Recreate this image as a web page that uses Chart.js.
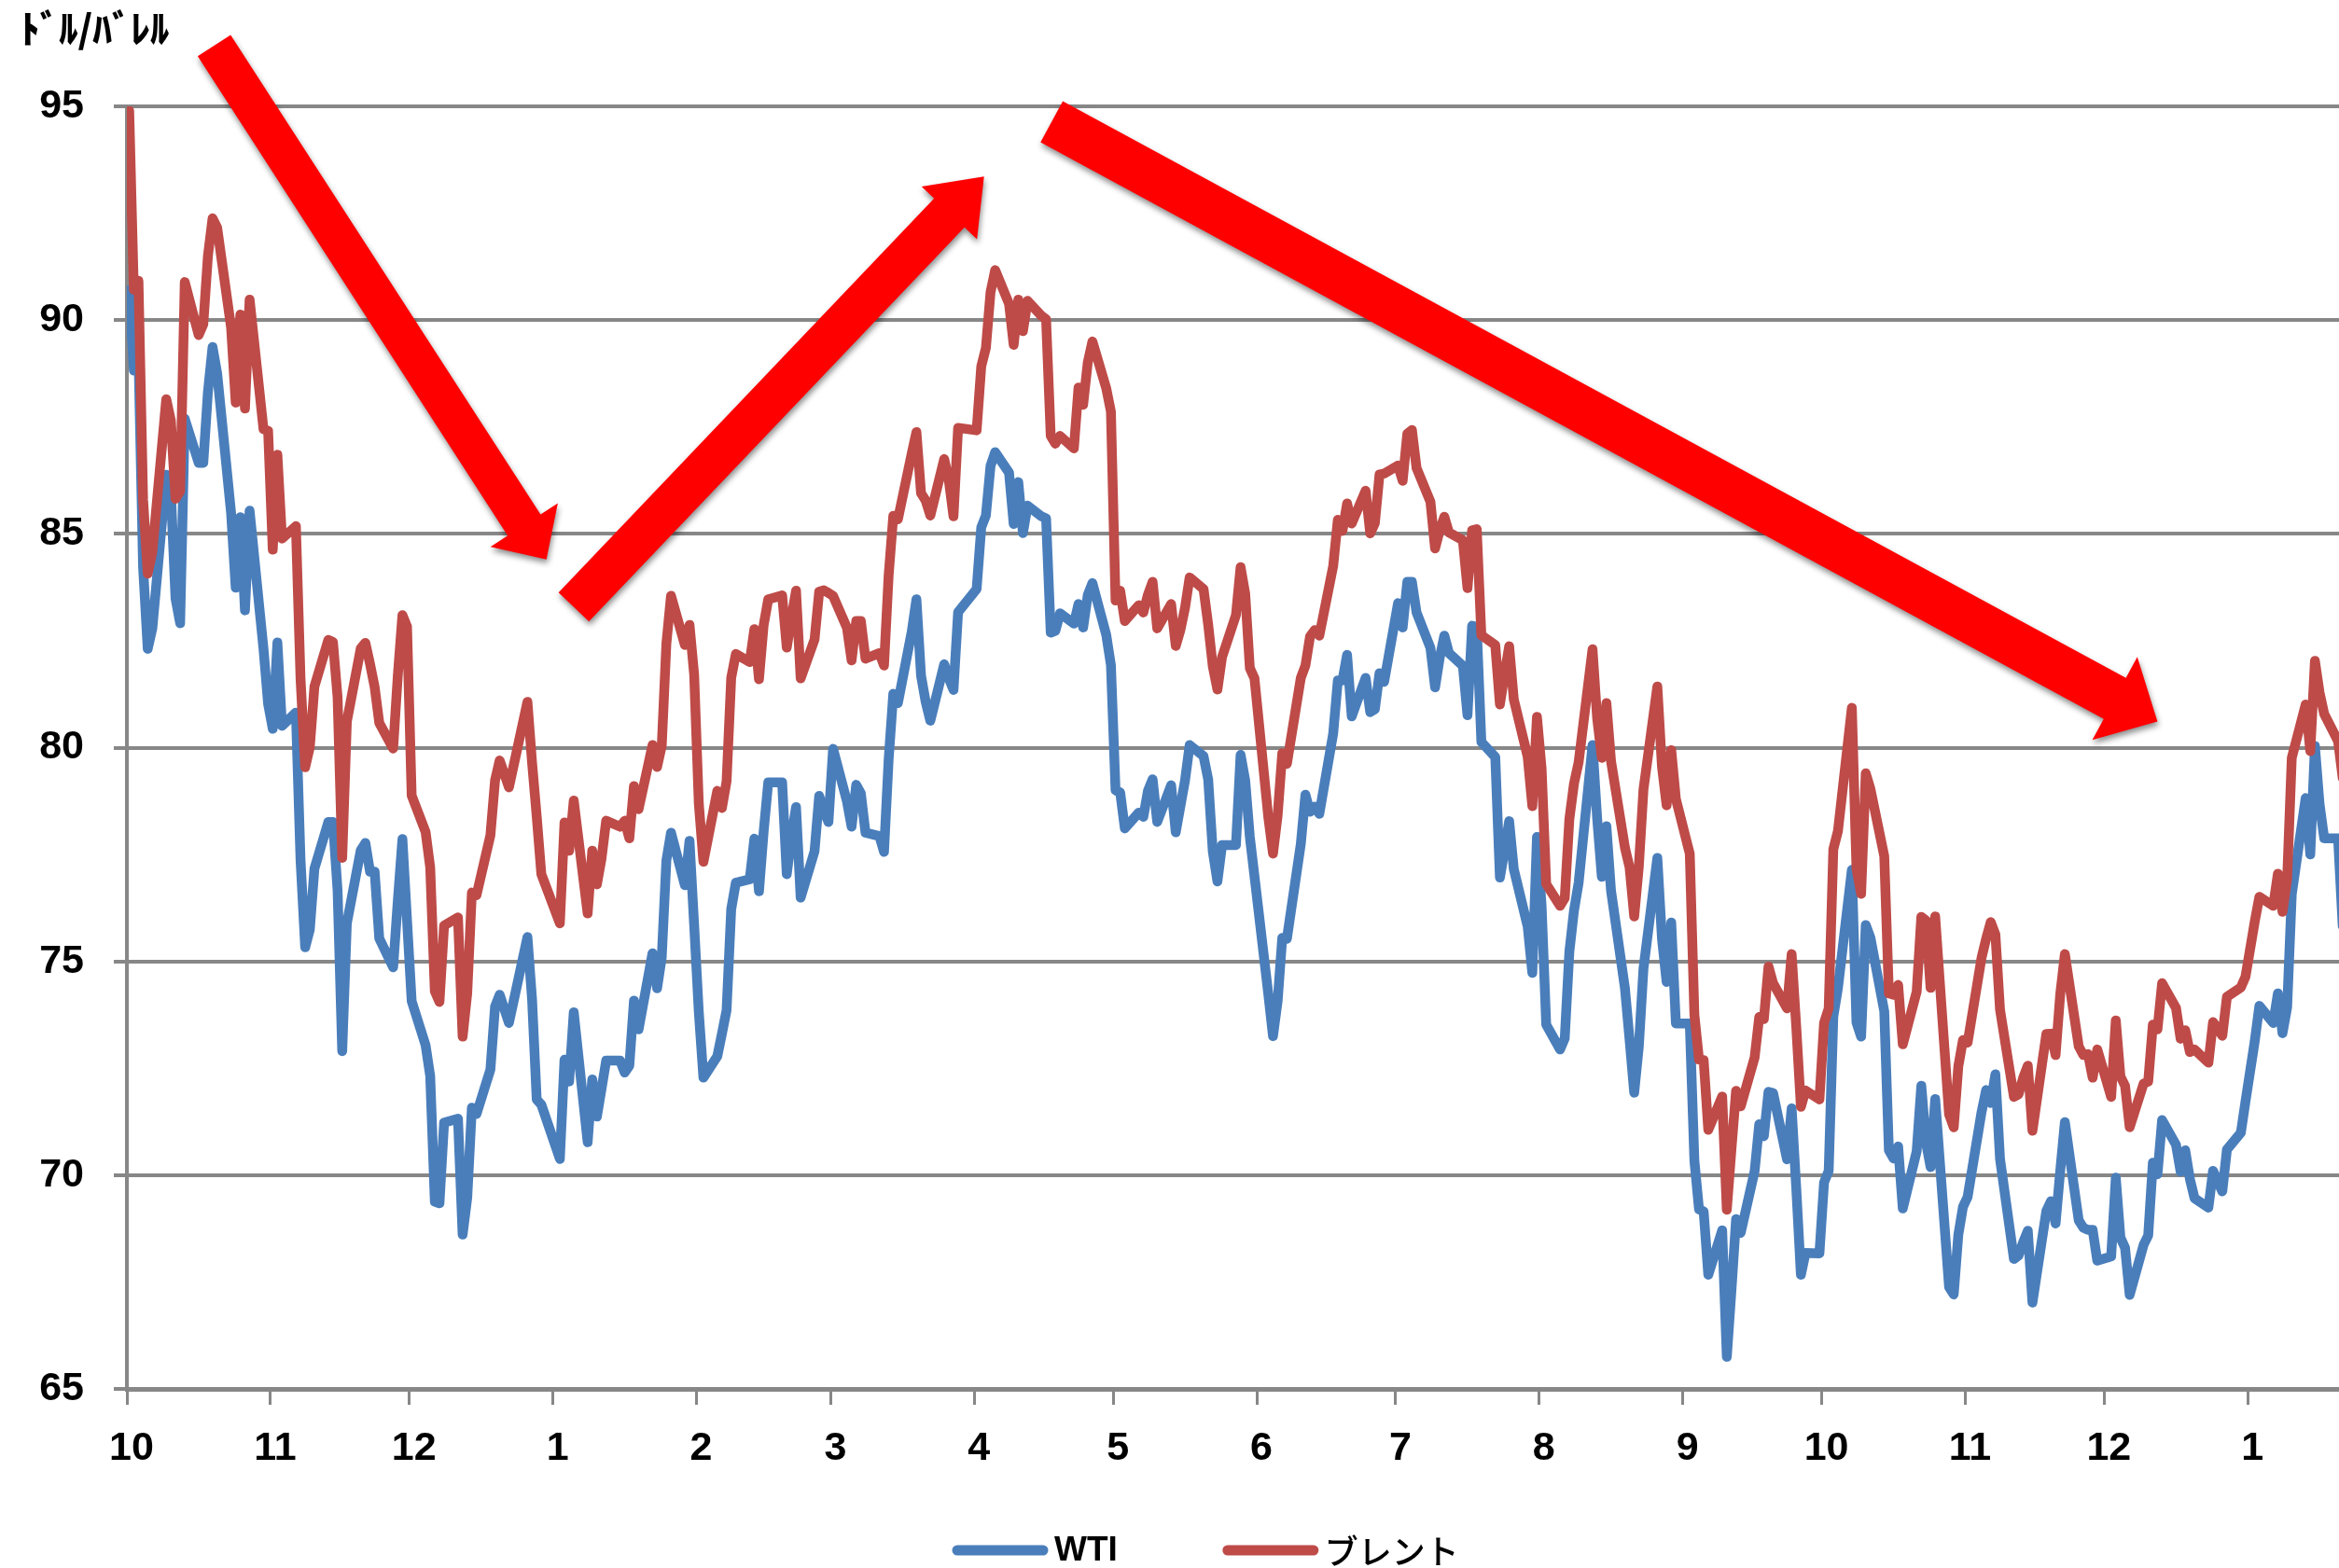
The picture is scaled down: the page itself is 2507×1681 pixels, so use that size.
<!DOCTYPE html>
<html>
<head>
<meta charset="utf-8">
<title>WTI・ブレント原油価格</title>
<script src="https://cdn.jsdelivr.net/npm/chart.js@4.4.1/dist/chart.umd.min.js"></script>
<style>
  html, body { margin: 0; padding: 0; background: #ffffff; }
  #wrap { width: 2507px; height: 1681px; position: relative; overflow: hidden; }
  canvas { display: block; }
</style>
</head>
<body>
<div id="wrap"><canvas id="oil" width="2507" height="1681"></canvas></div>
<script>
// Daily settlement dates (one row per trading day)
const tradeDates = [
  '2023-10-01','2023-10-02','2023-10-03','2023-10-04','2023-10-05','2023-10-06','2023-10-09','2023-10-10','2023-10-11','2023-10-12','2023-10-13',
  '2023-10-16','2023-10-17','2023-10-18','2023-10-19','2023-10-20','2023-10-23','2023-10-24','2023-10-25','2023-10-26','2023-10-27','2023-10-30','2023-10-31',
  '2023-11-01','2023-11-02','2023-11-03','2023-11-06','2023-11-07','2023-11-08','2023-11-09','2023-11-10','2023-11-13','2023-11-14','2023-11-15','2023-11-16',
  '2023-11-17','2023-11-20','2023-11-21','2023-11-22','2023-11-23','2023-11-24','2023-11-27','2023-11-28','2023-11-29','2023-11-30',
  '2023-12-01','2023-12-04','2023-12-05','2023-12-06','2023-12-07','2023-12-08','2023-12-11','2023-12-12','2023-12-13','2023-12-14','2023-12-15',
  '2023-12-18','2023-12-19','2023-12-20','2023-12-21','2023-12-22','2023-12-26','2023-12-27','2023-12-28','2023-12-29',
  '2024-01-02','2024-01-03','2024-01-04','2024-01-05','2024-01-08','2024-01-09','2024-01-10','2024-01-11','2024-01-12','2024-01-15','2024-01-16',
  '2024-01-17','2024-01-18','2024-01-19','2024-01-22','2024-01-23','2024-01-24','2024-01-25','2024-01-26','2024-01-29','2024-01-30','2024-01-31',
  '2024-02-01','2024-02-02','2024-02-05','2024-02-06','2024-02-07','2024-02-08','2024-02-09','2024-02-12','2024-02-13','2024-02-14','2024-02-15',
  '2024-02-16','2024-02-19','2024-02-20','2024-02-21','2024-02-22','2024-02-23','2024-02-26','2024-02-27','2024-02-28','2024-02-29',
  '2024-03-01','2024-03-04','2024-03-05','2024-03-06','2024-03-07','2024-03-08','2024-03-11','2024-03-12','2024-03-13','2024-03-14','2024-03-15',
  '2024-03-18','2024-03-19','2024-03-20','2024-03-21','2024-03-22','2024-03-25','2024-03-26','2024-03-27','2024-03-28',
  '2024-04-01','2024-04-02','2024-04-03','2024-04-04','2024-04-05','2024-04-08','2024-04-09','2024-04-10','2024-04-11','2024-04-12','2024-04-15',
  '2024-04-16','2024-04-17','2024-04-18','2024-04-19','2024-04-22','2024-04-23','2024-04-24','2024-04-25','2024-04-26','2024-04-29','2024-04-30',
  '2024-05-01','2024-05-02','2024-05-03','2024-05-06','2024-05-07','2024-05-08','2024-05-09','2024-05-10','2024-05-13','2024-05-14','2024-05-15',
  '2024-05-16','2024-05-17','2024-05-20','2024-05-21','2024-05-22','2024-05-23','2024-05-24','2024-05-27','2024-05-28','2024-05-29','2024-05-30','2024-05-31',
  '2024-06-03','2024-06-04','2024-06-05','2024-06-06','2024-06-07','2024-06-10','2024-06-11','2024-06-12','2024-06-13','2024-06-14','2024-06-17',
  '2024-06-18','2024-06-19','2024-06-20','2024-06-21','2024-06-24','2024-06-25','2024-06-26','2024-06-27','2024-06-28',
  '2024-07-01','2024-07-02','2024-07-03','2024-07-04','2024-07-05','2024-07-08','2024-07-09','2024-07-10','2024-07-11','2024-07-12','2024-07-15',
  '2024-07-16','2024-07-17','2024-07-18','2024-07-19','2024-07-22','2024-07-23','2024-07-24','2024-07-25','2024-07-26','2024-07-29','2024-07-30','2024-07-31',
  '2024-08-01','2024-08-02','2024-08-05','2024-08-06','2024-08-07','2024-08-08','2024-08-09','2024-08-12','2024-08-13','2024-08-14','2024-08-15',
  '2024-08-16','2024-08-19','2024-08-20','2024-08-21','2024-08-22','2024-08-23','2024-08-26','2024-08-27','2024-08-28','2024-08-29','2024-08-30',
  '2024-09-02','2024-09-03','2024-09-04','2024-09-05','2024-09-06','2024-09-09','2024-09-10','2024-09-11','2024-09-12','2024-09-13','2024-09-16',
  '2024-09-17','2024-09-18','2024-09-19','2024-09-20','2024-09-23','2024-09-24','2024-09-25','2024-09-26','2024-09-27','2024-09-30',
  '2024-10-01','2024-10-02','2024-10-03','2024-10-04','2024-10-07','2024-10-08','2024-10-09','2024-10-10','2024-10-11','2024-10-14','2024-10-15',
  '2024-10-16','2024-10-17','2024-10-18','2024-10-21','2024-10-22','2024-10-23','2024-10-24','2024-10-25','2024-10-28','2024-10-29','2024-10-30','2024-10-31',
  '2024-11-01','2024-11-04','2024-11-05','2024-11-06','2024-11-07','2024-11-08','2024-11-11','2024-11-12','2024-11-13','2024-11-14','2024-11-15',
  '2024-11-18','2024-11-19','2024-11-20','2024-11-21','2024-11-22','2024-11-25','2024-11-26','2024-11-27','2024-11-28','2024-11-29',
  '2024-12-02','2024-12-03','2024-12-04','2024-12-05','2024-12-06','2024-12-09','2024-12-10','2024-12-11','2024-12-12','2024-12-13','2024-12-16',
  '2024-12-17','2024-12-18','2024-12-19','2024-12-20','2024-12-23','2024-12-24','2024-12-26','2024-12-27','2024-12-30','2024-12-31',
  '2025-01-02','2025-01-03','2025-01-06','2025-01-07','2025-01-08','2025-01-09','2025-01-10','2025-01-13','2025-01-14','2025-01-15','2025-01-16',
  '2025-01-17','2025-01-20','2025-01-21'
];

// WTI, USD per barrel
const wtiPrice = [
  90.70,88.82,89.23,84.22,82.31,82.79,86.38,85.97,83.49,82.91,87.69,
  86.66,86.66,88.32,89.37,88.75,85.49,83.74,85.39,83.21,85.54,82.31,81.02,
  80.44,82.46,80.51,80.82,77.37,75.33,75.74,77.17,78.26,78.26,76.66,72.90,
  75.89,77.60,77.77,77.10,77.10,75.54,74.86,76.41,77.86,75.96,
  74.07,73.04,72.32,69.38,69.34,71.23,71.32,68.61,69.47,71.58,71.43,
  72.47,73.94,74.22,73.89,73.56,75.57,74.11,71.77,71.65,
  70.38,72.70,72.19,73.81,70.77,72.24,71.37,72.02,72.68,72.68,72.40,
  72.56,74.08,73.41,75.19,74.37,75.09,77.36,78.01,76.78,77.82,75.85,
  73.82,72.28,72.78,73.31,73.86,76.22,76.84,76.92,77.87,76.64,78.03,
  79.19,79.19,77.04,77.91,78.61,76.49,77.58,78.87,78.54,78.26,
  79.97,78.74,78.15,79.13,78.93,78.01,77.93,77.56,79.72,81.26,81.04,
  82.72,83.47,81.68,81.07,80.63,81.95,81.62,81.35,83.17,
  83.71,85.15,85.43,86.59,86.91,86.43,85.23,86.21,85.02,85.66,85.41,
  85.36,82.69,82.73,83.14,82.90,83.36,82.81,83.57,83.85,82.63,81.93,
  79.00,78.95,78.11,78.48,78.38,78.99,79.26,78.26,79.12,78.02,78.63,
  79.23,80.06,79.80,79.26,77.57,76.87,77.72,77.72,79.83,79.23,77.91,76.99,
  74.22,73.25,74.07,75.55,75.53,77.74,78.90,78.50,78.62,78.45,80.33,
  81.57,81.57,82.17,80.73,81.63,80.83,80.90,81.74,81.54,
  83.38,82.81,83.88,83.88,83.16,82.33,81.41,82.10,82.62,82.21,81.91,
  80.76,82.85,82.82,80.13,79.78,76.96,77.59,78.28,77.16,75.81,74.73,77.91,
  76.31,73.52,72.94,73.20,75.23,76.19,76.84,80.06,78.35,76.98,78.16,
  76.65,74.37,73.17,71.93,73.01,74.83,77.42,75.53,74.52,75.91,73.55,
  73.55,70.34,69.20,69.15,67.67,68.71,65.75,67.31,68.97,68.65,70.09,
  71.19,70.91,71.95,71.92,70.37,71.56,69.69,67.67,68.18,68.17,
  69.83,70.10,73.71,74.38,77.14,73.57,73.24,75.85,75.56,73.83,70.58,
  70.39,70.67,69.22,70.56,72.09,70.77,70.19,71.78,67.38,67.21,68.61,69.26,
  69.49,71.47,71.99,71.69,72.36,70.38,68.04,68.12,68.43,68.70,67.02,
  69.16,69.39,68.87,70.10,71.24,68.94,68.77,68.72,68.72,68.00,
  68.10,69.94,68.54,68.30,67.20,68.37,68.59,70.29,70.02,71.29,70.71,
  70.08,70.58,69.91,69.46,69.24,70.10,69.62,70.60,70.99,71.72,
  73.13,73.96,73.56,74.25,73.32,73.92,76.57,78.82,77.50,80.04,78.68,
  77.88,77.88,75.83
];

// Brent, USD per barrel
const brentPrice = [
  94.90,90.71,90.92,85.81,84.07,84.58,88.15,87.65,85.82,86.00,90.89,
  89.65,89.90,91.50,92.38,92.16,89.83,88.07,90.13,87.93,90.48,87.45,87.41,
  84.63,86.85,84.89,85.18,81.61,79.54,80.01,81.43,82.52,82.47,81.18,77.42,
  80.61,82.32,82.45,81.96,81.42,80.58,79.98,81.68,83.10,82.83,
  78.88,78.03,77.20,74.30,74.05,75.84,76.03,73.24,74.26,76.61,76.55,
  77.95,79.23,79.70,79.39,79.07,81.07,79.65,78.39,77.04,
  75.89,78.25,77.59,78.76,76.12,77.59,76.80,77.41,78.29,78.15,78.29,
  77.88,79.10,78.56,80.06,79.55,80.04,82.43,83.55,82.40,82.87,81.71,
  78.70,77.33,78.99,78.59,79.21,81.63,82.19,82.00,82.77,81.60,82.86,
  83.47,83.56,82.34,83.03,83.67,81.62,82.53,83.65,83.68,83.62,
  83.55,82.80,82.04,82.96,82.96,82.08,82.21,81.92,84.03,85.42,85.34,
  86.89,87.38,85.95,85.78,85.43,86.75,86.25,85.41,87.48,
  87.42,88.92,89.35,90.65,91.17,90.38,89.42,90.48,89.74,90.45,90.10,
  90.02,87.29,87.11,87.29,87.00,88.42,88.02,89.01,89.50,88.40,87.86,
  83.44,83.67,82.96,83.33,83.16,83.58,83.88,82.79,83.36,82.38,82.75,
  83.27,83.98,83.71,82.88,81.90,81.36,82.12,83.10,84.22,83.60,81.86,81.62,
  78.36,77.52,78.41,79.87,79.62,81.63,81.92,82.60,82.75,82.62,84.25,
  85.33,85.07,85.71,85.24,86.01,85.01,85.25,86.39,86.41,
  86.60,86.24,87.34,87.43,86.54,85.75,84.66,85.08,85.40,85.03,84.85,
  83.73,85.08,85.11,82.63,82.40,81.01,81.71,82.37,81.13,79.78,78.63,80.72,
  79.52,76.81,76.30,76.48,78.33,79.16,79.66,82.30,80.69,79.76,81.04,
  79.68,77.66,77.20,76.05,77.22,79.02,81.43,79.55,78.65,79.94,78.80,
  77.52,73.75,72.70,72.69,71.06,71.84,69.19,70.61,71.97,71.61,72.75,
  73.70,73.65,74.88,74.49,73.90,75.17,73.46,71.60,71.98,71.77,
  73.56,73.90,77.62,78.05,80.93,77.18,76.58,79.40,79.04,77.46,74.25,
  74.22,74.45,73.06,74.29,76.04,75.96,74.38,76.05,71.42,71.12,72.55,73.16,
  73.10,75.08,75.53,75.92,75.63,73.87,71.83,71.89,72.28,72.56,71.04,
  73.30,73.31,72.81,74.23,75.17,73.01,72.81,72.83,72.28,72.94,
  71.83,73.62,72.31,72.09,71.12,72.14,72.19,73.52,73.41,74.49,73.91,
  73.19,73.39,72.88,72.94,72.63,73.58,73.26,74.17,74.39,74.64,
  75.93,76.51,76.30,77.05,76.16,76.92,79.76,81.01,79.92,82.03,81.29,
  80.79,80.15,79.29
];

// Month tick positions and their labels
const monthStarts = [
  '2023-10-01','2023-11-01','2023-12-01','2024-01-01','2024-02-01','2024-03-01','2024-04-01','2024-05-01',
  '2024-06-01','2024-07-01','2024-08-01','2024-09-01','2024-10-01','2024-11-01','2024-12-01','2025-01-01'
];
const monthLabels = ['10','11','12','1','2','3','4','5','6','7','8','9','10','11','12','1'];

const seriesNames = ['WTI', 'ブレント'];
const seriesColors = ['#4A7EBB', '#BE4B48'];
const unitLabel = 'ﾄﾞﾙ/ﾊﾞﾚﾙ';

// Trend arrows laid over the plot: [days from axis start, price]
const trendArrows = [
  { from: [18.85, 96.42], to: [90.6, 84.40], shaft: 42, head: 86, headLen: 44 },
  { from: [96.5, 83.29], to: [185.1, 93.36], shaft: 45, head: 82, headLen: 54 },
  { from: [199.7, 94.64], to: [438.5, 80.61], shaft: 50, head: 101, headLen: 52 }
];

const GRID = '#878787';
const INK = '#000000';
const tickFont = { family: "'Liberation Sans', Arial, sans-serif", size: 43, weight: 'bold' };

const DAY_MS = 86400000;
const AXIS_START = Date.UTC(2023, 9, 1);
function dayOf(iso) {
  const [y, m, d] = iso.split('-').map(Number);
  return (Date.UTC(y, m - 1, d) - AXIS_START) / DAY_MS;
}
// each day's value sits in the middle of its day slot
const xDays = tradeDates.map(d => dayOf(d) + 0.5);
const monthTicks = monthStarts.map(dayOf);

function series(values) {
  return values.map((v, i) => ({ x: xDays[i], y: v }));
}

const arrowPlugin = {
  id: 'trendArrows',
  afterDatasetsDraw(chart) {
    const { ctx, scales: { x, y } } = chart;
    ctx.save();
    ctx.fillStyle = '#FF0000';
    ctx.shadowColor = 'rgba(0,0,0,0.45)';
    ctx.shadowBlur = 6;
    ctx.shadowOffsetX = 1;
    ctx.shadowOffsetY = 4;
    trendArrows.forEach(a => {
      const tx = x.getPixelForValue(a.from[0]), ty = y.getPixelForValue(a.from[1]);
      const px = x.getPixelForValue(a.to[0]), py = y.getPixelForValue(a.to[1]);
      const len = Math.hypot(px - tx, py - ty);
      const ux = (px - tx) / len, uy = (py - ty) / len;
      const nx = -uy, ny = ux;
      const bx = px - ux * a.headLen, by = py - uy * a.headLen;
      const s = a.shaft / 2, h = a.head / 2;
      ctx.beginPath();
      ctx.moveTo(tx + nx * s, ty + ny * s);
      ctx.lineTo(bx + nx * s, by + ny * s);
      ctx.lineTo(bx + nx * h, by + ny * h);
      ctx.lineTo(px, py);
      ctx.lineTo(bx - nx * h, by - ny * h);
      ctx.lineTo(bx - nx * s, by - ny * s);
      ctx.lineTo(tx - nx * s, ty - ny * s);
      ctx.closePath();
      ctx.fill();
    });
    ctx.restore();
  }
};

const labelPlugin = {
  id: 'unitAndLegend',
  afterDraw(chart) {
    const { ctx } = chart;
    ctx.save();
    // unit caption above the value axis
    ctx.fillStyle = INK;
    ctx.font = "900 41px 'Noto Sans CJK JP', sans-serif";
    ctx.textAlign = 'left';
    ctx.textBaseline = 'middle';
    ctx.fillText(unitLabel, 22, 30);

    // legend row along the bottom
    const legendY = 1662;
    const swatch = 92;
    let cx = 1026;
    chart.data.datasets.forEach((ds, i) => {
      ctx.strokeStyle = ds.borderColor;
      ctx.lineWidth = 11;
      ctx.lineCap = 'round';
      ctx.beginPath();
      ctx.moveTo(cx, legendY);
      ctx.lineTo(cx + swatch, legendY);
      ctx.stroke();
      ctx.fillStyle = INK;
      ctx.font = i === 0 ? "bold 37px 'Liberation Sans', Arial, sans-serif" : "500 36px 'Noto Sans CJK JP', sans-serif";
      ctx.textBaseline = 'middle';
      const tx = cx + swatch + 12;
      ctx.fillText(ds.label, tx, legendY + 1);
      cx = tx + ctx.measureText(ds.label).width + 118;
    });
    ctx.restore();
  }
};

new Chart(document.getElementById('oil'), {
  type: 'line',
  data: {
    datasets: [
      { label: seriesNames[0], data: series(wtiPrice), borderColor: seriesColors[0], order: 1 },
      { label: seriesNames[1], data: series(brentPrice), borderColor: seriesColors[1], order: 0 }
    ]
  },
  options: {
    responsive: false,
    animation: false,
    devicePixelRatio: 1,
    layout: { padding: { top: 114, right: 0, bottom: 0, left: 0 } },
    elements: {
      line: { borderWidth: 10.5, tension: 0, borderJoinStyle: 'round', borderCapStyle: 'round', fill: false },
      point: { radius: 0, hoverRadius: 0 }
    },
    datasets: { line: { spanGaps: true } },
    plugins: { legend: { display: false }, tooltip: { enabled: false }, title: { display: false } },
    events: [],
    scales: {
      x: {
        type: 'linear',
        min: 0,
        max: 477.7,
        afterBuildTicks(scale) { scale.ticks = monthTicks.map(v => ({ value: v })); },
        afterFit(scale) { scale.height = 192; },
        grid: { drawOnChartArea: false, drawTicks: true, tickLength: 17, color: GRID, lineWidth: 3 },
        border: { display: true, color: GRID, width: 5 },
        ticks: {
          autoSkip: false, maxRotation: 0, minRotation: 0, padding: 21, labelOffset: 5,
          font: tickFont, color: INK,
          callback: (value, index) => monthLabels[index]
        }
      },
      y: {
        min: 65,
        max: 95,
        afterFit(scale) { scale.width = 136; },
        grid: { color: GRID, lineWidth: 4, tickLength: 14, drawTicks: true },
        border: { display: true, color: GRID, width: 4 },
        ticks: { stepSize: 5, padding: 32, font: tickFont, color: INK }
      }
    }
  },
  plugins: [arrowPlugin, labelPlugin]
});
</script>
</body>
</html>
